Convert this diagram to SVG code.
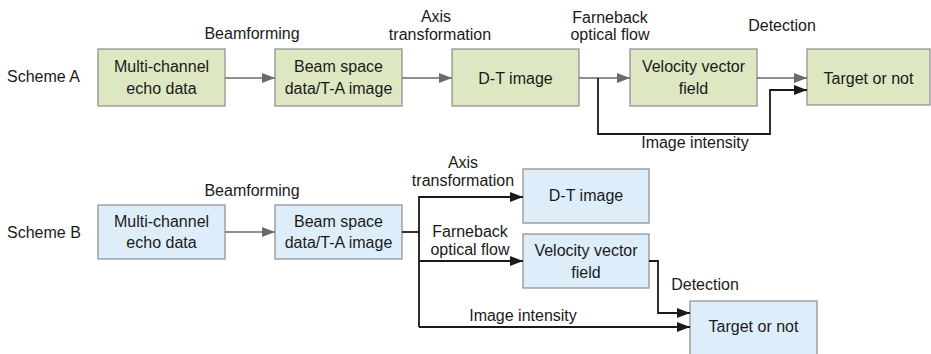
<svg xmlns="http://www.w3.org/2000/svg" width="931" height="354" viewBox="0 0 931 354">
  <style>
    text { font-family: "Liberation Sans", Arial, sans-serif; font-size: 16px; fill: #1a1a1a; }
    .c { text-anchor: middle; }
    .boxA { fill: #dde7c1; stroke: #8c8c8c; stroke-width: 1.2; }
    .boxB { fill: #ddeefa; stroke: #8c8c8c; stroke-width: 1.2; }
    .gray { fill: none; stroke: #6a6a6a; stroke-width: 1.6; }
    .dark { fill: none; stroke: #1a1a1a; stroke-width: 1.8; }
  </style>
  <defs>
    <marker id="arrGray" viewBox="0 0 13 10" refX="13" refY="5" markerWidth="13" markerHeight="10" markerUnits="userSpaceOnUse" orient="auto">
      <path d="M0,0 L13,5 L0,10 Z" fill="#6a6a6a"/>
    </marker>
    <marker id="arrDark" viewBox="0 0 13 10" refX="13" refY="5" markerWidth="13" markerHeight="10" markerUnits="userSpaceOnUse" orient="auto">
      <path d="M0,0 L13,5 L0,10 Z" fill="#1a1a1a"/>
    </marker>
  </defs>

  <rect width="931" height="354" fill="#ffffff"/>

  <!-- Row labels -->
  <text x="7" y="82">Scheme A</text>
  <text x="7" y="238">Scheme B</text>

  <!-- Scheme A nodes -->
  <g id="a-echo">
    <rect class="boxA" x="98" y="49" width="127" height="57"/>
    <text class="c" x="161.5" y="72">Multi-channel</text>
    <text class="c" x="161.5" y="94">echo data</text>
  </g>
  <g id="a-beam">
    <rect class="boxA" x="275" y="49" width="127" height="57"/>
    <text class="c" x="338.5" y="72">Beam space</text>
    <text class="c" x="338.5" y="94">data/T-A image</text>
  </g>
  <g id="a-dt">
    <rect class="boxA" x="452" y="49" width="127" height="57"/>
    <text class="c" x="515.5" y="83.5">D-T image</text>
  </g>
  <g id="a-velocity">
    <rect class="boxA" x="630" y="49" width="127" height="57"/>
    <text class="c" x="693.5" y="72">Velocity vector</text>
    <text class="c" x="693.5" y="94">field</text>
  </g>
  <g id="a-target">
    <rect class="boxA" x="807" y="49" width="123" height="56"/>
    <text class="c" x="868.5" y="84">Target or not</text>
  </g>

  <!-- Scheme B nodes -->
  <g id="b-echo">
    <rect class="boxB" x="98" y="205" width="127" height="54"/>
    <text class="c" x="161.5" y="227">Multi-channel</text>
    <text class="c" x="161.5" y="248">echo data</text>
  </g>
  <g id="b-beam">
    <rect class="boxB" x="275" y="205" width="127" height="54"/>
    <text class="c" x="338.5" y="227">Beam space</text>
    <text class="c" x="338.5" y="248">data/T-A image</text>
  </g>
  <g id="b-dt">
    <rect class="boxB" x="523" y="169" width="126" height="54"/>
    <text class="c" x="586" y="201">D-T image</text>
  </g>
  <g id="b-velocity">
    <rect class="boxB" x="523" y="234" width="126" height="54"/>
    <text class="c" x="586" y="256">Velocity vector</text>
    <text class="c" x="586" y="278">field</text>
  </g>
  <g id="b-target">
    <rect class="boxB" x="690" y="301" width="127" height="60"/>
    <text class="c" x="753.5" y="332">Target or not</text>
  </g>

  <!-- Connectors -->
  <g id="connectors">
    <!-- Scheme A -->
    <line class="gray" x1="225" y1="78" x2="275" y2="78" marker-end="url(#arrGray)"/>
    <line class="gray" x1="402" y1="78" x2="452" y2="78" marker-end="url(#arrGray)"/>
    <line class="gray" x1="579" y1="78" x2="630" y2="78" marker-end="url(#arrGray)"/>
    <line class="gray" x1="757" y1="78" x2="807" y2="78" marker-end="url(#arrGray)"/>
    <polyline class="dark" points="598,78 598,134 770,134 770,90 807,90" marker-end="url(#arrDark)"/>

    <!-- Scheme B -->
    <line class="gray" x1="225" y1="232" x2="275" y2="232" marker-end="url(#arrGray)"/>
    <line class="dark" x1="402" y1="232" x2="419" y2="232" stroke-width="2.4"/>
    <polyline class="dark" points="419,327 419,197 523,197" marker-end="url(#arrDark)"/>
    <line class="dark" x1="419" y1="261" x2="523" y2="261" marker-end="url(#arrDark)"/>
    <line class="dark" x1="419" y1="327" x2="690" y2="327" marker-end="url(#arrDark)"/>
    <polyline class="dark" points="649,261 658,261 658,313 690,313" marker-end="url(#arrDark)"/>
  </g>

  <!-- Edge labels, Scheme A -->
  <text class="c" x="252" y="39">Beamforming</text>
  <text class="c" x="436" y="22">Axis</text>
  <text class="c" x="440" y="40">transformation</text>
  <text class="c" x="610" y="23">Farneback</text>
  <text class="c" x="610" y="40">optical flow</text>
  <text class="c" x="782" y="31">Detection</text>
  <text class="c" x="695" y="148">Image intensity</text>

  <!-- Edge labels, Scheme B -->
  <text class="c" x="252" y="196">Beamforming</text>
  <text class="c" x="463" y="168">Axis</text>
  <text class="c" x="463" y="186">transformation</text>
  <text class="c" x="470" y="237">Farneback</text>
  <text class="c" x="470" y="255">optical flow</text>
  <text class="c" x="705" y="290">Detection</text>
  <text class="c" x="523" y="321">Image intensity</text>
</svg>
